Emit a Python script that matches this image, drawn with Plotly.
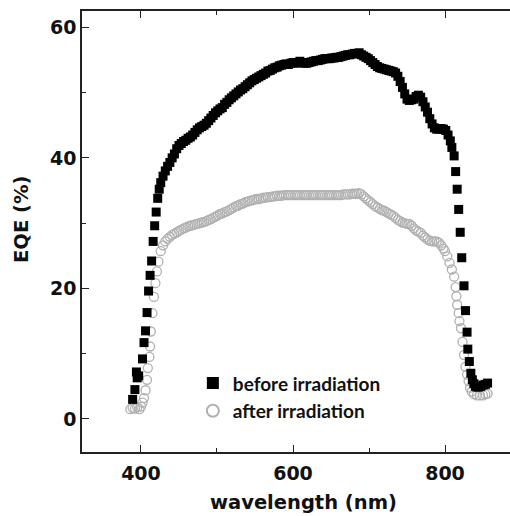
import plotly.graph_objects as go

# ---- data ----
before_wl = [389, 392, 394, 395, 397, 402, 404, 406, 408, 410, 412, 414, 416, 418, 420,
             422, 424, 426, 429, 432, 435, 438, 441, 444, 447, 450, 453, 456, 459, 462,
             465, 468, 471, 474, 477, 480, 483, 486, 489, 492, 495, 498, 501, 504, 507,
             510, 513, 516, 519, 522, 525, 528, 531, 534, 537, 540, 543, 546, 549, 552,
             555, 558, 561, 564, 567, 570, 573, 576, 579, 582, 585, 588, 591, 594, 597,
             600, 603, 606, 609, 612, 615, 618, 621, 624, 627, 630, 633, 636, 639, 642,
             645, 648, 651, 654, 657, 660, 663, 666, 669, 672, 675, 678, 681, 684, 687,
             690, 693, 696, 699, 702, 705, 708, 711, 714, 717, 720, 723, 726, 729, 732,
             735, 738, 741, 744, 747, 750, 753, 756, 759, 762, 765, 768, 771, 774, 777,
             780, 783, 786, 789, 792, 795, 798, 801, 804, 807, 809, 812, 814, 816, 818,
             820, 822, 825, 827, 829, 830, 832, 834, 836, 838, 840, 842, 844, 847, 850,
             853, 856]
before_eqe = [3.0, 4.5, 7.2, 6.3, 6.6, 9.2, 11.7, 13.5, 16.3, 19.6, 22.0, 24.2, 27.2, 29.6, 31.7,
              33.8, 35.2, 36.2, 37.2, 38.0, 38.7, 39.3, 40.0, 40.6, 41.4, 41.9, 42.2, 42.5, 42.7, 43.0,
              43.2, 43.5, 43.9, 44.3, 44.6, 44.8, 45.0, 45.3, 45.7, 46.1, 46.5, 46.9, 47.2, 47.5, 47.7,
              48.2, 48.5, 48.9, 49.2, 49.5, 49.8, 50.1, 50.4, 50.6, 50.9, 51.2, 51.5, 51.8, 52.0, 52.2,
              52.4, 52.6, 52.8, 53.0, 53.3, 53.4, 53.6, 53.8, 53.9, 54.1, 54.2, 54.3, 54.4, 54.3, 54.5,
              54.6, 54.5, 54.6, 54.8, 54.6, 54.5, 54.5, 54.6, 54.7, 54.8, 54.9, 54.9, 55.0, 55.1, 55.2,
              55.2, 55.2, 55.3, 55.3, 55.4, 55.4, 55.5, 55.6, 55.7, 55.8, 55.8, 55.9, 56.0, 56.0, 56.1,
              55.8, 55.6, 55.4, 55.2, 54.9, 54.6, 54.3, 54.0, 53.8, 53.7, 53.6, 53.5, 53.4, 53.3, 53.2,
              53.0, 52.5, 51.7, 50.8, 49.8, 49.0, 48.8, 48.9, 49.0, 49.4, 49.6, 49.3, 48.6, 47.8, 47.0,
              46.0, 45.2, 44.6, 44.4, 44.4, 44.5, 44.4, 44.2, 43.5, 42.6, 41.6, 40.3, 37.9, 35.2, 32.1,
              28.6, 24.7, 20.4, 16.6, 13.3, 10.7, 8.8, 7.0, 6.0, 5.4, 5.0, 4.9, 4.9, 5.0, 5.2,
              5.3, 5.5]

after_wl = [386, 389, 392, 395, 398, 400, 402, 404, 406, 408, 409, 411, 412, 413, 415,
            417, 419, 421, 423, 426, 429, 432, 435, 438, 441, 444, 447, 450, 453, 456,
            459, 462, 465, 468, 471, 474, 477, 480, 483, 486, 489, 492, 495, 498, 501,
            504, 507, 510, 513, 516, 519, 522, 525, 528, 531, 534, 537, 540, 543, 546,
            549, 552, 555, 558, 561, 564, 567, 570, 573, 576, 579, 582, 585, 588, 591,
            594, 597, 600, 603, 606, 609, 612, 615, 618, 621, 624, 627, 630, 633, 636,
            639, 642, 645, 648, 651, 654, 657, 660, 663, 666, 669, 672, 675, 678, 681,
            684, 687, 690, 693, 696, 699, 702, 705, 708, 711, 714, 717, 720, 723, 726,
            729, 732, 735, 738, 741, 744, 747, 750, 753, 756, 759, 762, 765, 768, 771,
            774, 777, 780, 783, 786, 789, 792, 795, 798, 800, 803, 806, 809, 812, 814,
            815, 816, 818, 819, 821, 823, 825, 827, 829, 831, 833, 835, 838, 842, 846,
            850, 853, 856]
after_eqe = [1.5, 1.7, 1.6, 1.8, 1.5, 1.9, 2.5, 3.2, 4.4, 6.0, 7.8, 9.5, 11.1, 13.4, 16.2,
             18.7, 20.8, 22.6, 24.1, 25.7, 26.6, 27.2, 27.6, 27.9, 28.2, 28.4, 28.6, 28.8, 29.0, 29.2,
             29.3, 29.5, 29.6, 29.7, 29.8, 29.9, 30.0, 30.1, 30.2, 30.3, 30.5, 30.6, 30.8, 31.0, 31.2,
             31.4, 31.5, 31.7, 31.8, 32.0, 32.2, 32.4, 32.6, 32.7, 32.9, 33.0, 33.2, 33.3, 33.4, 33.5,
             33.6, 33.7, 33.7, 33.8, 33.9, 33.9, 34.0, 34.0, 34.1, 34.1, 34.2, 34.2, 34.2, 34.3, 34.3,
             34.3, 34.3, 34.3, 34.3, 34.3, 34.3, 34.3, 34.3, 34.3, 34.3, 34.3, 34.3, 34.3, 34.3, 34.3,
             34.3, 34.3, 34.3, 34.3, 34.3, 34.3, 34.3, 34.3, 34.3, 34.4, 34.4, 34.4, 34.4, 34.5, 34.5,
             34.5, 34.6, 34.4, 34.1, 33.8, 33.5, 33.2, 32.9, 32.6, 32.4, 32.2, 32.0, 31.9, 31.7, 31.5,
             31.3, 31.1, 30.8, 30.5, 30.3, 30.1, 30.0, 29.9, 29.9, 29.6, 29.2, 28.9, 28.7, 28.5, 28.1,
             27.8, 27.5, 27.3, 27.2, 27.2, 27.2, 27.0, 26.6, 26.1, 25.7, 24.9, 23.9, 22.9, 21.8, 20.2,
             18.8, 17.5, 16.2, 15.0, 13.9, 11.8, 9.8, 8.0, 6.8, 5.8, 4.8, 4.2, 3.8, 3.6, 3.6,
             3.6, 3.8, 3.9]

x_ticks = [400, 600, 800]
y_ticks = [0, 20, 40, 60]
series_names = ["before irradiation", "after irradiation"]
x_title = "wavelength (nm)"
y_title = "EQE (%)"

fig = go.Figure()
fig.add_trace(go.Scatter(
    x=after_wl, y=after_eqe, mode="markers", name=series_names[1],
    legendrank=2,
    marker=dict(symbol="circle-open", size=9, color="#b0b0b0", line=dict(width=1.3, color="#b0b0b0")),
))
fig.add_trace(go.Scatter(
    x=before_wl, y=before_eqe, mode="markers", name=series_names[0],
    legendrank=1,
    marker=dict(symbol="square", size=9, color="#000000", line=dict(width=0)),
))

axis_common = dict(
    showline=True, linewidth=1.5, linecolor="#222222",
    ticks="inside", ticklen=7, tickwidth=1.3, tickcolor="#222222",
    showgrid=False, zeroline=False, automargin=False,
    tickfont=dict(family="DejaVu Sans", size=19, color="#111111", weight="bold"),
)

fig.update_xaxes(
    **axis_common,
    range=[322.4, 885.5], tickvals=x_ticks, mirror="ticks", ticklabelstandoff=3,
    minor=dict(tickvals=[500, 700], ticks="inside", ticklen=4, tickwidth=1.2, tickcolor="#222222"),
)
fig.update_yaxes(
    **axis_common,
    range=[-5.06, 62.5], tickvals=y_ticks,
    minor=dict(tickvals=[10, 30, 50], ticks="inside", ticklen=4, tickwidth=1.2, tickcolor="#222222"),
)

title_font = dict(family="DejaVu Sans", size=19.5, color="#111111", weight="bold")
fig.add_annotation(text=x_title, xref="paper", yref="paper",
                   x=(303.7 - 82) / 428, y=-(502 - 452) / 441,
                   xanchor="center", yanchor="middle", showarrow=False, font=title_font)
fig.add_annotation(text=y_title, xref="paper", yref="paper", textangle=-90,
                   x=-(82 - 21) / 428, y=(452 - 220) / 441,
                   xanchor="center", yanchor="middle", showarrow=False, font=title_font)

fig.update_layout(
    width=510, height=516,
    margin=dict(l=82, r=0, t=11, b=64),
    paper_bgcolor="white", plot_bgcolor="white",
    legend=dict(
        x=0.259, y=0.199, xanchor="left", yanchor="top",
        bgcolor="rgba(0,0,0,0)", itemsizing="constant",
        font=dict(family="Lato", size=19, color="#111111", weight="bold"),
    ),
    showlegend=True,
)

fig.write_html("out.html", config={"displayModeBar": False},
               post_script="document.body.style.margin='0';document.body.style.overflow='hidden';")
